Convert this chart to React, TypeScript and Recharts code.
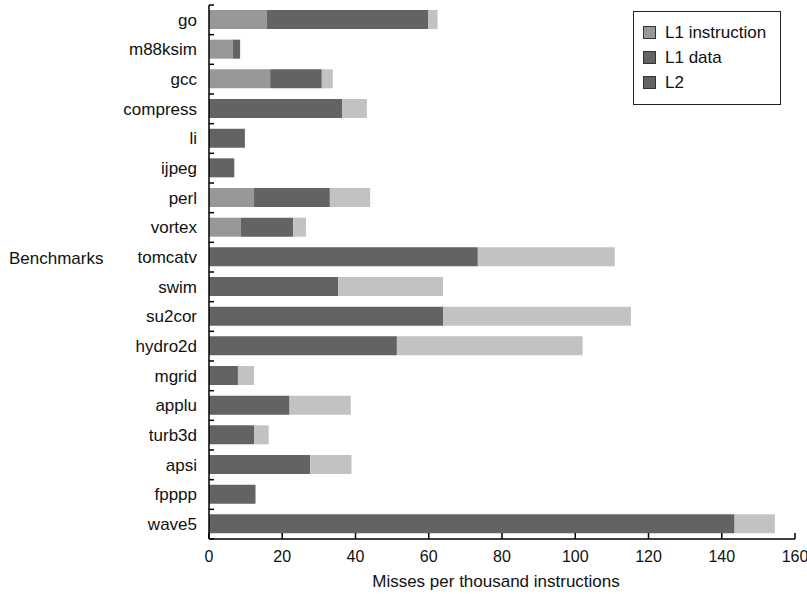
import React from "react"
import { BarChart, Bar, XAxis, YAxis, Legend } from "recharts"

const benchmarks = [
  "go", "m88ksim", "gcc", "compress", "li", "ijpeg", "perl", "vortex", "tomcatv",
  "swim", "su2cor", "hydro2d", "mgrid", "applu", "turb3d", "apsi", "fpppp", "wave5",
]
const l1Instruction = [15.8, 6.5, 16.7, 0, 0, 0, 12.3, 8.7, 0, 0, 0, 0, 0, 0, 0, 0, 0, 0]
const l1Data = [44.0, 2.0, 14.1, 36.4, 9.8, 6.9, 20.7, 14.3, 73.4, 35.3, 63.9, 51.3, 7.9, 22.0, 12.3, 27.6, 12.7, 143.5]
const l2 = [2.6, 0, 3.0, 6.7, 0, 0, 11.0, 3.5, 37.4, 28.6, 51.3, 50.7, 4.4, 16.7, 4.0, 11.3, 0, 11.0]
const xTicks = [0, 20, 40, 60, 80, 100, 120, 140, 160]

const data = benchmarks.map((name, i) => ({
  name,
  l1i: l1Instruction[i],
  l1d: l1Data[i],
  l2: l2[i],
}))

const C_L1I = "#989898"
const C_L1D = "#636363"
const C_L2 = "#c2c2c2"
// the original legend shows L2 with the dark swatch
const swatch: Record<string, string> = { l1i: C_L1I, l1d: C_L1D, l2: C_L1D }
const legendOrder = ["l1i", "l1d", "l2"]

const FONT = "'Liberation Sans', Arial, sans-serif"
const GAP = 12

const YTick = (props: any) => {
  const { x, y, payload, index } = props
  const half = payload.offset ?? 14.8
  const ax = x + GAP
  return (
    <g>
      <text x={x} y={y} dy="0.35em" textAnchor="end" fontSize={17} fill="#111">
        {payload.value}
      </text>
      {index === 0 && <line x1={ax} x2={ax + 5} y1={y - half} y2={y - half} stroke="#000" strokeWidth={1.5} />}
      <line x1={ax} x2={ax + 5} y1={y + half} y2={y + half} stroke="#000" strokeWidth={1.5} />
    </g>
  )
}

const XTick = (props: any) => {
  const { x, y, payload } = props
  const ay = y - GAP
  return (
    <g>
      <line x1={x} x2={x} y1={ay} y2={ay - 6} stroke="#000" strokeWidth={1.5} />
      <text x={x} y={y} dy="0.71em" textAnchor="middle" fontSize={16} fill="#111">
        {payload.value}
      </text>
    </g>
  )
}

const LegendBox = (props: any) => {
  const items = [...(props.payload || [])].sort(
    (a: any, b: any) => legendOrder.indexOf(a.dataKey) - legendOrder.indexOf(b.dataKey)
  )
  return (
    <div
      style={{
        boxSizing: "border-box",
        width: 148,
        height: 94,
        border: "1.5px solid #222",
        background: "#fff",
        padding: "8px 0 0 9px",
        fontFamily: FONT,
        fontSize: 17,
        color: "#111",
      }}
    >
      {items.map((it: any) => (
        <div key={it.dataKey} style={{ display: "flex", alignItems: "center", height: 25 }}>
          <span
            style={{
              display: "inline-block",
              width: 11,
              height: 11,
              marginRight: 9,
              background: swatch[it.dataKey],
              border: "1px solid #333",
            }}
          />
          {it.value}
        </div>
      ))}
    </div>
  )
}

export default function App() {
  return (
    <div style={{ position: "absolute", left: 0, top: 0, width: 807, height: 594, background: "#fff", fontFamily: FONT }}>
      <BarChart
        width={807}
        height={594}
        data={data}
        layout="vertical"
        barSize={19}
        margin={{ top: 5, right: 12, bottom: 0, left: 0 }}
      >
        <XAxis
          type="number"
          domain={[0, 160]}
          ticks={xTicks}
          interval={0}
          height={55}
          tickSize={0}
          tickMargin={GAP}
          tickLine={false}
          tick={<XTick />}
          axisLine={{ stroke: "#000", strokeWidth: 1.5 }}
          label={{ value: "Misses per thousand instructions", position: "insideBottom", offset: 7, fill: "#111", fontSize: 17, dx: -6 }}
        />
        <YAxis
          type="category"
          dataKey="name"
          width={209}
          interval={0}
          tickSize={0}
          tickMargin={GAP}
          tickLine={false}
          tick={<YTick />}
          axisLine={{ stroke: "#000", strokeWidth: 1.5 }}
          label={{
            content: (p: any) => {
              const vb = p.viewBox
              return (
                <text x={vb.x + 9} y={vb.y + vb.height / 2 - 14} dy="0.35em" fontSize={17} fill="#111">
                  Benchmarks
                </text>
              )
            },
          }}
        />
        <Legend
          layout="vertical"
          align="center"
          verticalAlign="middle"
          content={<LegendBox />}
          wrapperStyle={{ left: 633, top: 11, width: 148, height: 94 }}
        />
        <Bar dataKey="l1i" name="L1 instruction" stackId="a" fill={C_L1I} isAnimationActive={false} />
        <Bar dataKey="l1d" name="L1 data" stackId="a" fill={C_L1D} isAnimationActive={false} />
        <Bar dataKey="l2" name="L2" stackId="a" fill={C_L2} isAnimationActive={false} />
      </BarChart>
    </div>
  )
}
